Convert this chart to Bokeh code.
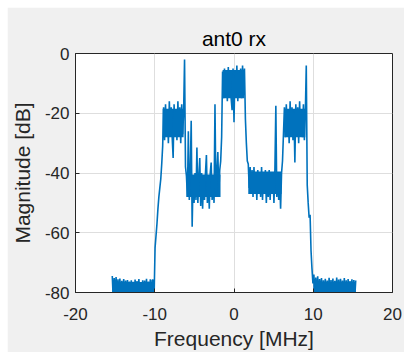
import numpy as np
from bokeh.plotting import figure
from bokeh.models import LinearAxis, FixedTicker, Range1d, Grid
from bokeh.embed import file_html
from bokeh.resources import INLINE

# FFT bin spacing of the spectrum (MHz)
bin_step_mhz = 0.12

# Spectrum segments: (first bin frequency in MHz, magnitudes in dB)
floor_left_start = -15.36
floor_left = [-74.5, -82.0, -75.2, -81.0, -74.8, -82.0, -75.6, -81.5, -75.3, -82.0,
              -76.1, -81.0, -75.5, -82.5, -76.0, -81.0, -75.8, -82.0, -76.3, -81.5,
              -75.9, -82.0, -76.4, -81.0, -75.7, -82.0, -76.2, -81.5, -75.5, -82.0,
              -76.5, -81.0, -75.9, -82.0, -76.0, -81.5, -75.4, -82.0, -76.3, -81.0,
              -75.6, -82.0, -75.8, -75.8, -81.0]
ramp_left_start = -9.96
ramp_left = [-65, -61, -57, -52, -48, -45, -42, -37]
band1_start = -9.00
band1 = [-31, -18, -29, -17, -27, -19, -30, -16, -26, -18, -28, -35, -17, -27, -19,
         -29, -16, -26, -18, -30, -17, -27, -20]
spur1_start = -6.24
spur1 = [-2]
edge1_start = -6.12
edge1 = [-38]
band2_start = -6.00
band2 = [-41, -48, -26, -49, -40, -22.5, -58, -41, -50, -40, -49, -31.5, -50, -41,
         -35, -51, -40, -52, -41, -49, -40, -34, -50, -41, -52, -40, -36.5, -49, -41,
         -50, -17, -48, -40, -33, -47, -39, -36]
edge2_start = -1.56
edge2 = [-28]
band3_start = -1.44
band3 = [-6, -15, -5, -14, -7, -16, -4.5, -13, -6, -15, -19, -5, -23, -6, -14, -4,
         -16, -6, -13, -5, -15, -4, -14, -5]
edge3_start = 1.44
edge3 = [-22, -30, -36]
band4_start = 1.80
band4 = [-37, -45, -38, -47, -39, -48, -38, -46, -40, -49,
         -39, -47, -40, -48, -38, -49, -40, -47, -39, -50,
         -40, -48, -39, -49, -41, -47, -40, -50, -39, -17.5,
         -48, -40, -49, -41, -52, -40]
edge4_start = 6.12
edge4 = [-36, -27]
band5_start = 6.36
band5 = [-18, -28, -17, -26, -19, -30, -16, -27, -18, -29, -19, -36.5, -17, -26, -18,
         -30, -16, -27, -19, -28, -17, -29, -20]
spur2_start = 9.12
spur2 = [-4]
ramp_right_start = 9.24
ramp_right = [-44, -50, -55, -54, -66, -72, -77]
floor_right_start = 10.08
floor_right = [-74.0, -82.0, -75.0, -81.0, -74.6, -82.0, -75.5, -81.5, -75.2, -82.0,
               -75.9, -81.0, -75.4, -82.5, -76.0, -81.0, -75.1, -82.0, -75.8, -81.5,
               -75.3, -82.0, -76.1, -81.0, -75.0, -82.0, -75.7, -81.5, -75.4, -82.0,
               -76.0, -81.0, -75.2, -82.0, -75.9, -81.5, -75.5, -82.0, -76.2, -81.0,
               -75.6, -82.0, -75.8, -81.5, -76.0]

# Dense noise core of each band (where the trace fills solidly): MHz and dB
core_left_mhz = [-15.36, -9.00, -6.00, -1.44, 1.80, 6.36, 10.02]
core_right_mhz = [-10.02, -6.36, -1.70, 1.32, 6.00, 9.00, 15.36]
core_low_db = [-80.0, -28.0, -48.0, -15.0, -47.0, -28.0, -80.0]
core_high_db = [-76.5, -18.5, -40.5, -5.5, -39.5, -18.5, -76.5]

x_ticks = [-20, -10, 0, 10, 20]
x_tick_labels = ["-20", "-10", "0", "10", "20"]
y_ticks = [-80, -60, -40, -20, 0]
y_tick_labels = ["-80", "-60", "-40", "-20", "0"]

segments = [(floor_left_start, floor_left), (ramp_left_start, ramp_left),
            (band1_start, band1), (spur1_start, spur1), (edge1_start, edge1),
            (band2_start, band2), (edge2_start, edge2), (band3_start, band3),
            (edge3_start, edge3), (band4_start, band4), (edge4_start, edge4),
            (band5_start, band5), (spur2_start, spur2), (ramp_right_start, ramp_right),
            (floor_right_start, floor_right)]

freq = []
mag = []
for start, vals in segments:
    for k, v in enumerate(vals):
        freq.append(round(start + bin_step_mhz * k, 3))
        mag.append(v)

FONT = "Liberation Sans"
TXT = "#262626"
BLUE = "#0072BD"

p = figure(width=397, height=345, x_range=Range1d(-20, 20), y_range=Range1d(-80, 0),
           output_backend="svg", toolbar_location=None,
           min_border_left=63, min_border_right=12, min_border_top=46, min_border_bottom=54,
           background_fill_color="white", border_fill_color="#f0f0f0",
           outline_line_color=TXT, outline_line_width=1)
p.margin = (7, 0, 0, 7)
p.xaxis.visible = False
p.yaxis.visible = False

p.title.text = "ant0 rx"
p.title.align = "center"
p.title.text_font = FONT
p.title.text_font_size = "21px"
p.title.text_font_style = "normal"
p.title.text_color = "#000000"
p.title.standoff = 8

xb = LinearAxis(ticker=FixedTicker(ticks=x_ticks),
                major_label_overrides={t: s for t, s in zip(x_ticks, x_tick_labels)},
                axis_label="Frequency [MHz]")
yl = LinearAxis(ticker=FixedTicker(ticks=y_ticks),
                major_label_overrides={t: s for t, s in zip(y_ticks, y_tick_labels)},
                axis_label="Magnitude [dB]")
for ax, st, ls in ((xb, 15, 4), (yl, 6, 8)):
    ax.major_tick_in = 4
    ax.major_tick_out = 0
    ax.minor_tick_line_color = None
    ax.axis_line_color = TXT
    ax.major_tick_line_color = TXT
    ax.major_label_text_font = FONT
    ax.major_label_text_font_size = "17px"
    ax.major_label_text_color = TXT
    ax.major_label_standoff = st
    ax.axis_label_text_font = FONT
    ax.axis_label_text_font_size = "21px"
    ax.axis_label_text_font_style = "normal"
    ax.axis_label_text_color = TXT
    ax.axis_label_standoff = ls
p.add_layout(xb, "below")
p.add_layout(yl, "left")

p.xgrid.visible = False
p.ygrid.visible = False
p.add_layout(Grid(dimension=0, ticker=FixedTicker(ticks=x_ticks), grid_line_color="#dedede"))
p.add_layout(Grid(dimension=1, ticker=FixedTicker(ticks=y_ticks), grid_line_color="#dedede"))

p.quad(left=core_left_mhz, right=core_right_mhz, bottom=core_low_db, top=core_high_db,
       fill_color=BLUE, line_color=None)
p.line(freq, mag, line_color=BLUE, line_width=1.6)

open("out.html", "w").write(file_html(p, INLINE))
